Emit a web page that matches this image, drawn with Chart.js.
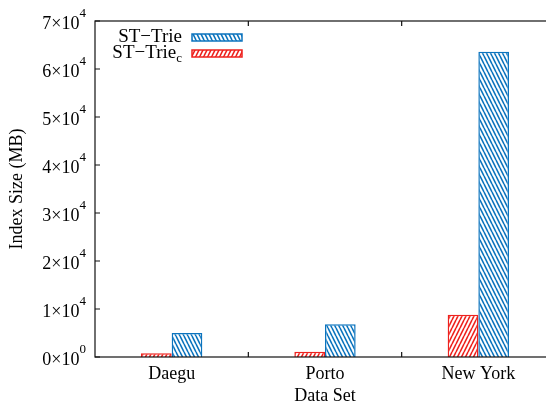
<!DOCTYPE html>
<html>
<head>
<meta charset="utf-8">
<script src="https://cdn.jsdelivr.net/npm/chart.js@4"></script>
<style>
  html, body { margin: 0; padding: 0; overflow: hidden; background: #fff; }
  #wrap { width: 560px; height: 405px; }
</style>
</head>
<body>
<div id="wrap"><canvas id="chart" width="560" height="405"></canvas></div>
<script>
const categories = ['Daegu', 'Porto', 'New York'];
const trieC = [800, 1100, 8800];
const trie = [5000, 6800, 63600];
const seriesNames = ['ST−Trie', 'ST−Trie'];
const seriesSubs = ['c', ''];
const yTickBases = ['0×10', '1×10', '2×10', '3×10', '4×10', '5×10', '6×10', '7×10'];
const yTickExps = ['0', '4', '4', '4', '4', '4', '4', '4'];

const COLORS = {
  red: 'rgb(238, 34, 30)',
  blue: 'rgb(12, 116, 190)'
};
const FONT = '"Liberation Serif", "Times New Roman", serif';

const canvas = document.getElementById('chart');
const ctx = canvas.getContext('2d');

// hatch fill like gnuplot patterns
function hatch(color, back) {
  const w = 4, h = 8;
  const c = document.createElement('canvas');
  c.width = w; c.height = h;
  const g = c.getContext('2d');
  g.fillStyle = '#fff';
  g.fillRect(0, 0, w, h);
  g.strokeStyle = color;
  g.lineWidth = 1.6;
  g.beginPath();
  for (let k = -1; k <= 1; k++) {
    if (back) { g.moveTo(k * w, 0); g.lineTo(k * w + w, h); }
    else { g.moveTo(k * w, h); g.lineTo(k * w + w, 0); }
  }
  g.stroke();
  return ctx.createPattern(c, 'repeat');
}

const frame = {
  id: 'frame',
  afterDatasetsDraw(chart) {
    const { ctx, chartArea: a, scales: { x, y } } = chart;
    ctx.save();
    ctx.strokeStyle = '#111';
    ctx.lineWidth = 1.2;
    ctx.strokeRect(a.left, a.top, a.right - a.left, a.bottom - a.top);
    ctx.beginPath();
    y.ticks.forEach(t => {
      const py = y.getPixelForValue(t.value);
      ctx.moveTo(a.left, py); ctx.lineTo(a.left + 5, py);
      ctx.moveTo(a.right, py); ctx.lineTo(a.right - 5, py);
    });
    for (let i = 0; i < categories.length - 1; i++) {
      const px = x.getPixelForValue(i + 0.5);
      ctx.moveTo(px, a.bottom); ctx.lineTo(px, a.bottom - 5);
      ctx.moveTo(px, a.top); ctx.lineTo(px, a.top + 5);
    }
    ctx.stroke();

    // y tick labels with real superscript exponents
    ctx.fillStyle = '#000';
    ctx.textAlign = 'right';
    ctx.textBaseline = 'alphabetic';
    y.ticks.forEach((t, i) => {
      const py = y.getPixelForValue(t.value);
      const right = a.left - 9;
      ctx.font = '13px ' + FONT;
      ctx.fillText(yTickExps[i], right, py - 4);
      const ew = ctx.measureText(yTickExps[i]).width;
      ctx.font = '18px ' + FONT;
      ctx.fillText(yTickBases[i], right - ew, py + 8);
    });
    ctx.restore();
  },
  afterDraw(chart) {
    const ctx = chart.ctx;
    const ds = chart.data.datasets;
    const order = [1, 0];
    ctx.save();
    order.forEach((di, row) => {
      const base = 42 + row * 16;
      const d = ds[di];
      ctx.fillStyle = '#000';
      ctx.textBaseline = 'alphabetic';
      ctx.textAlign = 'right';
      let xr = 182;
      if (seriesSubs[di]) {
        ctx.font = '13px ' + FONT;
        ctx.fillText(seriesSubs[di], xr, base + 4);
        xr -= ctx.measureText(seriesSubs[di]).width;
      }
      ctx.font = '19px ' + FONT;
      ctx.fillText(seriesNames[di], xr, base);
      ctx.fillStyle = d.backgroundColor;
      ctx.fillRect(192, base - 8, 50, 7);
      ctx.strokeStyle = d.borderColor;
      ctx.lineWidth = 1.5;
      ctx.strokeRect(192, base - 8, 50, 7);
    });
    ctx.restore();
  }
};

new Chart(canvas, {
  type: 'bar',
  data: {
    labels: categories,
    datasets: [
      {
        label: seriesNames[0] + seriesSubs[0],
        data: trieC,
        backgroundColor: hatch(COLORS.red, false),
        borderColor: COLORS.red,
        borderWidth: 1.5
      },
      {
        label: seriesNames[1],
        data: trie,
        backgroundColor: hatch(COLORS.blue, true),
        borderColor: COLORS.blue,
        borderWidth: 1.5
      }
    ]
  },
  plugins: [frame],
  options: {
    responsive: false,
    animation: false,
    devicePixelRatio: 1,
    layout: { padding: { top: 21, right: 5, left: 0, bottom: 0 } },
    datasets: { bar: { categoryPercentage: 0.4, barPercentage: 1 } },
    plugins: { legend: { display: false }, tooltip: { enabled: false } },
    scales: {
      x: {
        grid: { display: false, drawTicks: false },
        border: { display: false },
        ticks: { color: '#000', padding: 6, font: { family: FONT, size: 18 } },
        title: {
          display: true, text: 'Data Set', color: '#000',
          font: { family: FONT, size: 18, lineHeight: 1 },
          padding: { top: 0, bottom: 0 }
        },
        afterFit(scale) { scale.height = 48; }
      },
      y: {
        min: 0, max: 70000,
        grid: { display: false, drawTicks: false },
        border: { display: false },
        ticks: { stepSize: 10000, display: false },
        title: {
          display: true, text: 'Index Size (MB)', color: '#000',
          font: { family: FONT, size: 18 },
          padding: { top: 6, bottom: 0 }
        },
        afterFit(scale) { scale.width = 95; }
      }
    }
  }
});
</script>
</body>
</html>
